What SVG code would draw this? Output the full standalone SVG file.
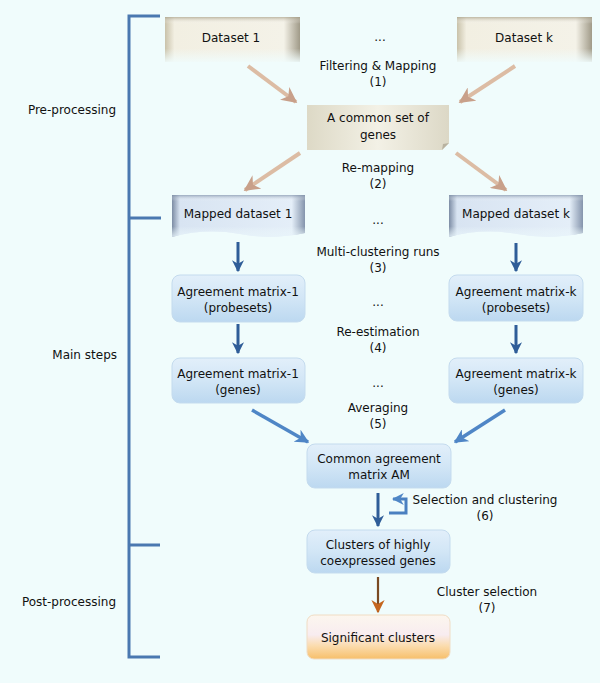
<svg xmlns="http://www.w3.org/2000/svg" width="600" height="683" viewBox="0 0 600 683">
<style>
text{font-family:"DejaVu Sans","Verdana",sans-serif;font-size:12px;fill:#111}
.m{text-anchor:middle}
.e{text-anchor:end}
.br{stroke:#4a78b0;stroke-width:3;fill:none}
.tan{stroke:#dcbca4;stroke-width:4;fill:none}
.dk{stroke:#2f5d98;stroke-width:3;fill:none}
.lb{stroke:#4f86c6;stroke-width:3.5;fill:none}
.blu{fill:url(#blueV);stroke:#c4dbee;stroke-width:1}
</style>
<defs>
<linearGradient id="beigeH" x1="0" x2="1" y1="0" y2="0">
<stop offset="0" stop-color="#c9c2aa"/><stop offset="0.07" stop-color="#f2efe2"/><stop offset="0.88" stop-color="#f4f2e8"/><stop offset="1" stop-color="#a09a88"/>
</linearGradient>
<linearGradient id="fadeV" x1="0" x2="0" y1="0" y2="1">
<stop offset="0" stop-color="#a8a088" stop-opacity="0.7"/><stop offset="0.15" stop-color="#ffffff" stop-opacity="0"/><stop offset="0.7" stop-color="#f0fcfc" stop-opacity="0"/><stop offset="1" stop-color="#f0fcfc" stop-opacity="0.9"/>
</linearGradient>
<linearGradient id="commonH" x1="0" x2="1" y1="0" y2="0">
<stop offset="0" stop-color="#ddd9c6"/><stop offset="0.5" stop-color="#f3f1e6"/><stop offset="1" stop-color="#dcd8c6"/>
</linearGradient>
<linearGradient id="mapH" x1="0" x2="1" y1="0" y2="0">
<stop offset="0" stop-color="#7c8ca4"/><stop offset="0.06" stop-color="#d8e4f2"/><stop offset="0.9" stop-color="#e4eef8"/><stop offset="1" stop-color="#8494ac"/>
</linearGradient>
<linearGradient id="mapV" x1="0" x2="0" y1="0" y2="1">
<stop offset="0" stop-color="#7f90a8" stop-opacity="0.7"/><stop offset="0.14" stop-color="#ffffff" stop-opacity="0"/><stop offset="0.75" stop-color="#f0fcfc" stop-opacity="0"/><stop offset="1" stop-color="#e8f4fa" stop-opacity="0.8"/>
</linearGradient>
<linearGradient id="blueV" x1="0" x2="0" y1="0" y2="1">
<stop offset="0" stop-color="#e2effa"/><stop offset="0.5" stop-color="#d2e6f6"/><stop offset="1" stop-color="#bcd8f0"/>
</linearGradient>
<linearGradient id="orangeV" x1="0" x2="0" y1="0" y2="1">
<stop offset="0" stop-color="#fcf6ee"/><stop offset="0.45" stop-color="#f8ecf0"/><stop offset="0.7" stop-color="#fbdcae"/><stop offset="1" stop-color="#f7bf6a"/>
</linearGradient>
<marker id="hTan" viewBox="0 0 10 10" refX="9" refY="5" markerWidth="4" markerHeight="4" orient="auto" markerUnits="strokeWidth">
<path d="M0 0 L10 5 L0 10 L3 5 Z" fill="#c8a08a"/>
</marker>
<marker id="hDk" viewBox="0 0 10 10" refX="9" refY="5" markerWidth="4" markerHeight="4.5" orient="auto" markerUnits="strokeWidth">
<path d="M0 0 L10 5 L0 10 L3 5 Z" fill="#2f5d98"/>
</marker>
<marker id="hLb" viewBox="0 0 10 10" refX="9" refY="5" markerWidth="4" markerHeight="4" orient="auto" markerUnits="strokeWidth">
<path d="M0 0 L10 5 L0 10 L3 5 Z" fill="#4f86c6"/>
</marker>
<marker id="hBr" viewBox="0 0 10 10" refX="9" refY="5" markerWidth="6" markerHeight="6" orient="auto" markerUnits="strokeWidth">
<path d="M0 0 L10 5 L0 10 L3 5 Z" fill="#c4651e"/>
</marker>
</defs>
<rect width="600" height="683" fill="#f0fcfc"/>

<g id="phases">
<path class="br" d="M160 16 H129 V657 H160 M129 218 H161 M129 545 H160"/>
<text class="e" x="116" y="114">Pre-processing</text>
<text class="e" x="117" y="359">Main steps</text>
<text class="e" x="116" y="606">Post-processing</text>
</g>

<g id="dataset1">
<rect x="165" y="17" width="135" height="45" fill="url(#beigeH)"/>
<rect x="165" y="17" width="135" height="45" fill="url(#fadeV)"/>
<text class="m" x="231" y="42">Dataset 1</text>
</g>
<g id="datasetk">
<rect x="457" y="17" width="135" height="45" fill="url(#beigeH)"/>
<rect x="457" y="17" width="135" height="45" fill="url(#fadeV)"/>
<text class="m" x="524" y="42">Dataset k</text>
</g>
<g id="common">
<path d="M307 105 H449 V143 L442 150 H307 Z" fill="url(#commonH)"/>
<path d="M449 143 L442 150 L443 144 Z" fill="#b8b2a0"/>
<text class="m" x="378" y="122">A common  set of</text>
<text class="m" x="378" y="139">genes</text>
</g>
<g id="mapped1">
<path d="M172 195 H305 V233 Q272 240 240 234 Q205 228 172 237 Z" fill="url(#mapH)"/>
<path d="M172 195 H305 V233 Q272 240 240 234 Q205 228 172 237 Z" fill="url(#mapV)"/>
<text class="m" x="238" y="218">Mapped dataset 1</text>
</g>
<g id="mappedk">
<path d="M449 195 H583 V233 Q550 240 517 234 Q482 228 449 237 Z" fill="url(#mapH)"/>
<path d="M449 195 H583 V233 Q550 240 517 234 Q482 228 449 237 Z" fill="url(#mapV)"/>
<text class="m" x="516" y="218">Mapped dataset k</text>
</g>
<g id="am1p">
<rect class="blu" x="172" y="275" width="133" height="47" rx="8"/>
<text class="m" x="238" y="296">Agreement matrix-1</text>
<text class="m" x="238" y="312">(probesets)</text>
</g>
<g id="amkp">
<rect class="blu" x="449" y="275" width="134" height="46" rx="8"/>
<text class="m" x="516" y="296">Agreement matrix-k</text>
<text class="m" x="516" y="312">(probesets)</text>
</g>
<g id="am1g">
<rect class="blu" x="172" y="358" width="133" height="45" rx="8"/>
<text class="m" x="238" y="378">Agreement matrix-1</text>
<text class="m" x="238" y="394">(genes)</text>
</g>
<g id="amkg">
<rect class="blu" x="449" y="358" width="134" height="45" rx="8"/>
<text class="m" x="516" y="378">Agreement matrix-k</text>
<text class="m" x="516" y="394">(genes)</text>
</g>
<g id="commonAM">
<rect class="blu" x="307" y="444" width="144" height="44" rx="8"/>
<text class="m" x="379" y="463">Common agreement</text>
<text class="m" x="379" y="479">matrix AM</text>
</g>
<g id="clusters">
<rect class="blu" x="307" y="530" width="143" height="43" rx="8"/>
<text class="m" x="378" y="549">Clusters of highly</text>
<text class="m" x="378" y="565">coexpressed genes</text>
</g>
<g id="significant">
<rect x="307" y="615" width="143" height="44" rx="7" fill="url(#orangeV)" stroke="#f0dcc4" stroke-width="1"/>
<text class="m" x="378" y="642">Significant  clusters</text>
</g>

<g id="labels">
<text class="m" x="380" y="41">...</text>
<text class="m" x="378" y="70">Filtering &amp; Mapping</text>
<text class="m" x="378" y="86">(1)</text>
<text class="m" x="378" y="172">Re-mapping</text>
<text class="m" x="378" y="188">(2)</text>
<text class="m" x="378" y="224">...</text>
<text class="m" x="378" y="256">Multi-clustering  runs</text>
<text class="m" x="378" y="272">(3)</text>
<text class="m" x="378" y="306">...</text>
<text class="m" x="378" y="336">Re-estimation</text>
<text class="m" x="378" y="352">(4)</text>
<text class="m" x="378" y="387">...</text>
<text class="m" x="378" y="412">Averaging</text>
<text class="m" x="378" y="428">(5)</text>
<text class="m" x="485" y="504">Selection  and  clustering</text>
<text class="m" x="485" y="520">(6)</text>
<text class="m" x="487" y="596">Cluster selection</text>
<text class="m" x="487" y="612">(7)</text>
</g>

<g id="connectors">
<line class="tan" x1="248" y1="66" x2="296" y2="102" marker-end="url(#hTan)"/>
<line class="tan" x1="515" y1="66" x2="460" y2="102" marker-end="url(#hTan)"/>
<line class="tan" x1="300" y1="153" x2="245" y2="190" marker-end="url(#hTan)"/>
<line class="tan" x1="456" y1="153" x2="506" y2="190" marker-end="url(#hTan)"/>
<line class="dk" x1="238" y1="242" x2="238" y2="271" marker-end="url(#hDk)"/>
<line class="dk" x1="516" y1="243" x2="516" y2="271" marker-end="url(#hDk)"/>
<line class="dk" x1="238" y1="324" x2="238" y2="353" marker-end="url(#hDk)"/>
<line class="dk" x1="516" y1="325" x2="516" y2="353" marker-end="url(#hDk)"/>
<line class="lb" x1="252" y1="410" x2="308" y2="442" marker-end="url(#hLb)"/>
<line class="lb" x1="505" y1="410" x2="455" y2="442" marker-end="url(#hLb)"/>
<line class="dk" x1="378" y1="493" x2="378" y2="526" stroke-width="2" marker-end="url(#hDk)"/>
<path d="M389 513 H406 V499 H393" stroke="#4a80c0" stroke-width="3" fill="none" marker-end="url(#hLb)"/>
<line x1="378" y1="577" x2="378" y2="612" stroke="#7a4a22" stroke-width="2.2" marker-end="url(#hBr)"/>
</g>
</svg>
